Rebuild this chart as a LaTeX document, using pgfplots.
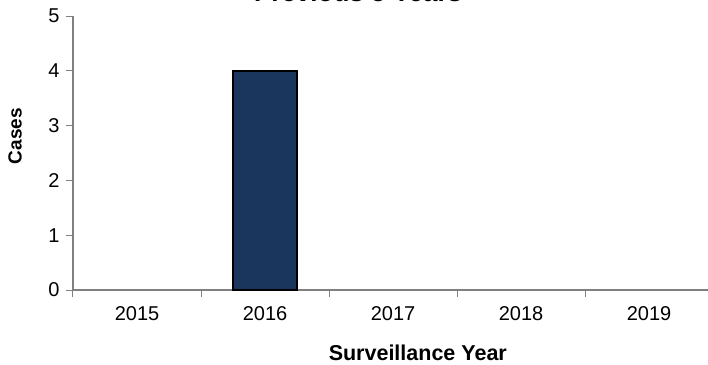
\documentclass[border=0pt]{standalone}
\usepackage{pgfplots}
\pgfplotsset{compat=1.18}
\usepackage{fontspec}
\setmainfont{Liberation Sans}
\definecolor{barblue}{HTML}{1B365D}
\definecolor{axgray}{HTML}{808080}
\begin{document}
\begin{tikzpicture}[x=1pt,y=1pt]
\useasboundingbox (-73,-74) rectangle (635,290);
\clip (-73,-74) rectangle (635,290);
\begin{axis}[
  at={(0,0)}, anchor=south west,
  scale only axis, width=635pt, height=274pt,
  xmin=-0.5, xmax=4.46, ymin=0, ymax=5,
  axis lines=left, axis line style={-, axgray, line width=1.2pt},
  xtick={0,1,2,3,4}, xticklabels={2015,2016,2017,2018,2019},
  major x tick style={draw=none},
  minor xtick={-0.5,0.5,1.5,2.5,3.5},
  minor tick length=7pt, major tick length=7pt,
  tick align=outside,
  tick style={axgray, line width=1pt},
  ytick={0,1,2,3,4,5},
  /pgf/number format/assume math mode=true,
  tick label style={font=\fontsize{20}{24}\selectfont},
  xticklabel style={yshift=-6pt},
  yticklabel style={xshift=-3pt},
  title={\textbf{Previous 5 Years}},
  title style={at={(rel axis cs:0.449,1.031)}, anchor=base, font=\fontsize{26}{30}\selectfont},
  xlabel={\textbf{Surveillance Year}},
  xlabel style={at={(rel axis cs:0.543,-0.228)}, anchor=center, font=\fontsize{21.5}{25}\selectfont},
  ylabel={\textbf{Cases}},
  ylabel style={at={(rel axis cs:-0.0913,0.562)}, anchor=center, rotate=0, font=\fontsize{19}{23}\selectfont},
  clip=false,
]
\addplot[ybar, bar width=64pt, fill=barblue, draw=black, line width=2pt,
  restrict y to domain=0.5:10]
  coordinates {(0,0) (1,4) (2,0) (3,0) (4,0)};
\end{axis}
\end{tikzpicture}
\end{document}
